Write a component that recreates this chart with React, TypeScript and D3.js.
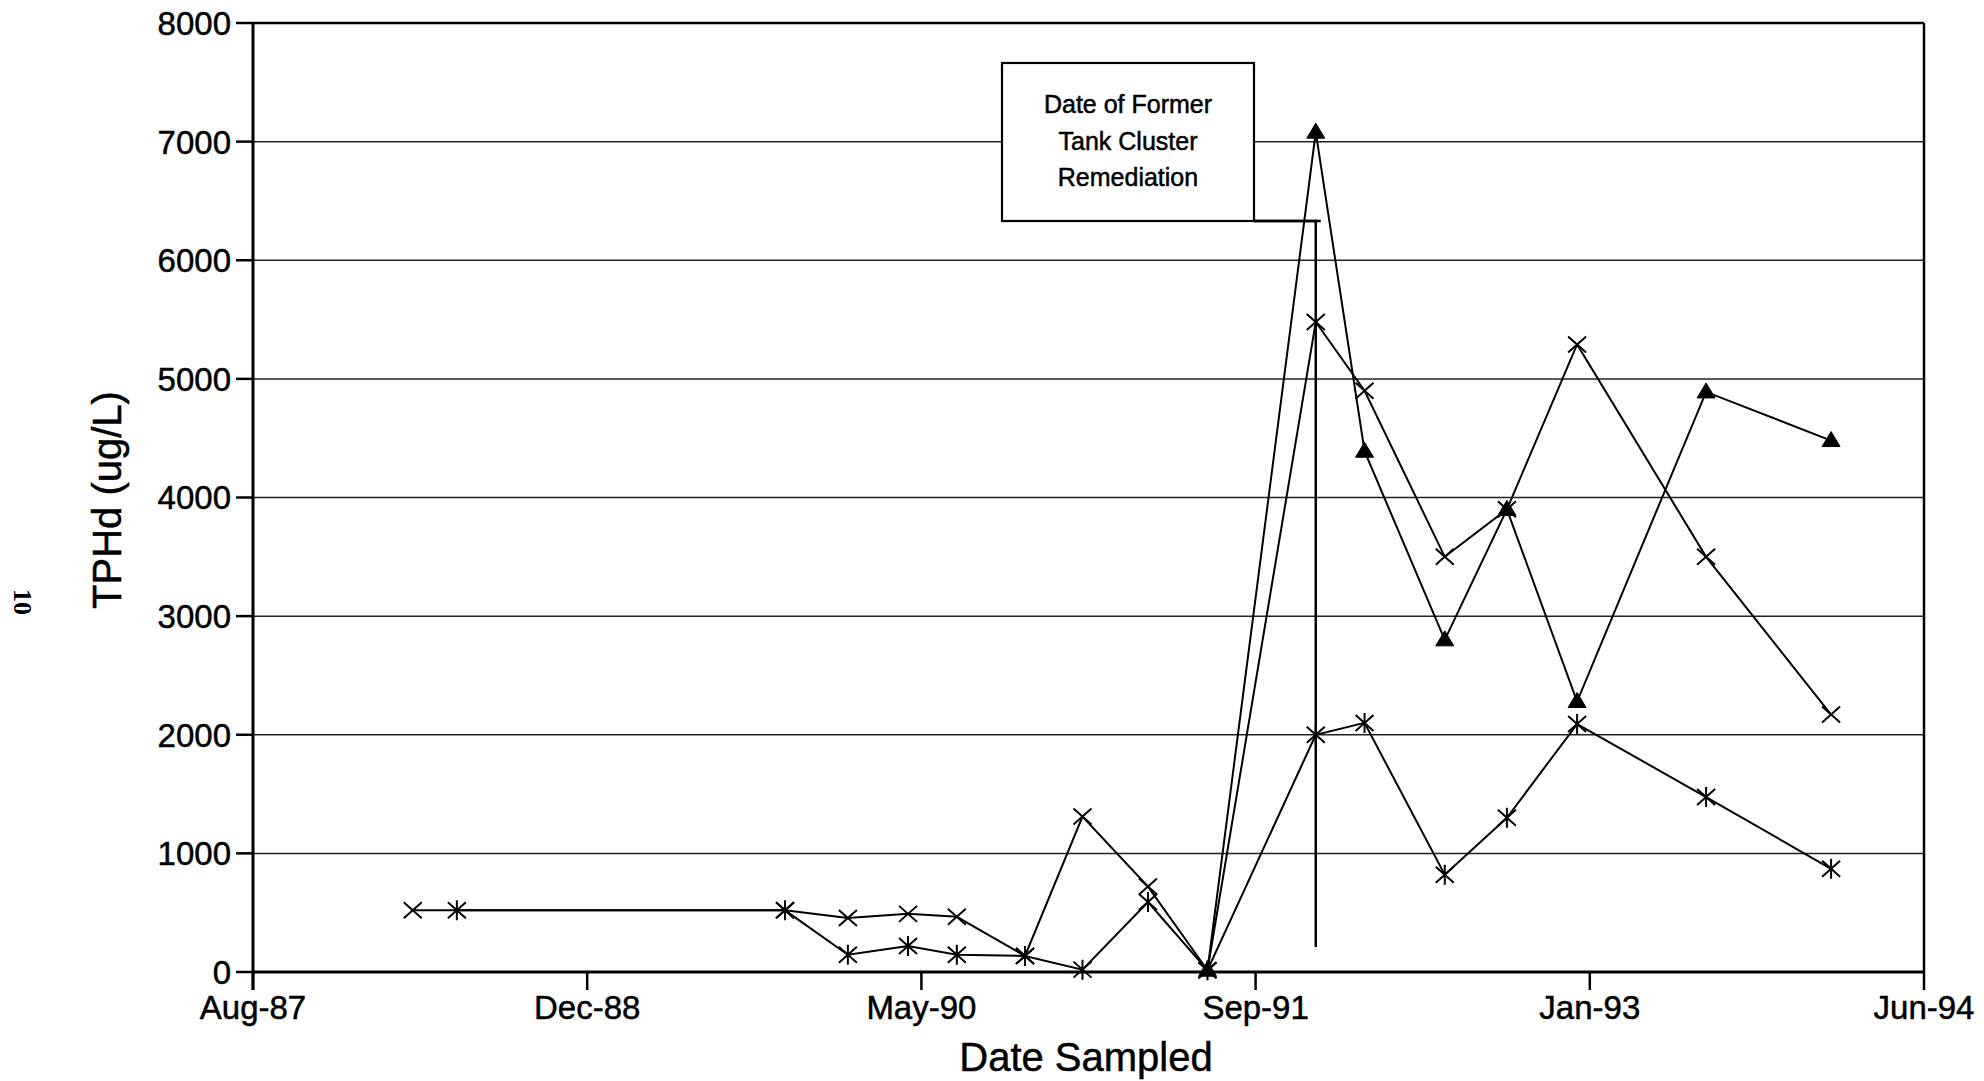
import React from "react";
import * as d3 from "d3";

// ---- data ----
const tickDates = ["1987-08-11", "1988-12-23", "1990-05-07", "1991-09-19", "1993-01-31", "1994-06-15"];
const yTicks = [0, 1000, 2000, 3000, 4000, 5000, 6000, 7000, 8000];

const crossDates = [
  "1988-04-06", "1989-10-15", "1990-01-17", "1990-04-17", "1990-06-29", "1990-10-09",
  "1991-01-03", "1991-04-11", "1991-07-09", "1991-12-18", "1992-02-29", "1992-06-28",
  "1992-09-29", "1993-01-12", "1993-07-24", "1994-01-27",
];
const crossValues = [520, 520, 455, 490, 465, 135, 1310, 720, 15, 5480, 4900, 3500, 3900, 5290, 3500, 2170];

const starDates = [
  "1988-06-11", "1989-10-15", "1990-01-17", "1990-04-17", "1990-06-29", "1990-10-09",
  "1991-01-03", "1991-04-11", "1991-07-09", "1991-12-18", "1992-02-29", "1992-06-28",
  "1992-09-29", "1993-01-12", "1993-07-24", "1994-01-27",
];
const starValues = [520, 520, 145, 220, 145, 135, 20, 590, 15, 2000, 2100, 820, 1300, 2090, 1475, 870];

const triDates = [
  "1991-07-09", "1991-12-18", "1992-02-29", "1992-06-28", "1992-09-29", "1993-01-12",
  "1993-07-24", "1994-01-27",
];
const triValues = [15, 7080, 4390, 2800, 3900, 2280, 4890, 4480];

const remediationDate = "1991-12-18";
const remediationFrom = 210;
const boxLines = ["Date of Former", "Tank Cluster", "Remediation"];

const xTitle = "Date Sampled";
const yTitle = "TPHd (ug/L)";
const pageNote = "10";

// ---- layout ----
const W = 1984;
const H = 1081;
const L = 253;
const R = 1924;
const T = 23;
const B = 972;
const FONT = "'Liberation Sans', Arial, Helvetica, sans-serif";

const parse = d3.utcParse("%Y-%m-%d");
const fmt = d3.utcFormat("%b-%y");

const x = d3
  .scaleUtc()
  .domain([parse(tickDates[0])!, parse(tickDates[tickDates.length - 1])!])
  .range([L, R]);
const y = d3.scaleLinear().domain([0, 8000]).range([B, T]);

type Pt = { d: Date; v: number };
const zip = (ds: string[], vs: number[]): Pt[] => ds.map((s, i) => ({ d: parse(s)!, v: vs[i] }));

const crossData = zip(crossDates, crossValues);
const starData = zip(starDates, starValues);
const triData = zip(triDates, triValues);

const line = d3
  .line<Pt>()
  .x((p) => x(p.d))
  .y((p) => y(p.v));

const CrossMark = ({ cx, cy }: { cx: number; cy: number }) => (
  <path d={`M${cx - 9},${cy - 8}L${cx + 9},${cy + 8}M${cx - 9},${cy + 8}L${cx + 9},${cy - 8}`} stroke="#000" strokeWidth={2} fill="none" />
);
const StarMark = ({ cx, cy }: { cx: number; cy: number }) => (
  <path
    d={`M${cx - 9},${cy - 8}L${cx + 9},${cy + 8}M${cx - 9},${cy + 8}L${cx + 9},${cy - 8}M${cx},${cy - 10}V${cy + 10}`}
    stroke="#000"
    strokeWidth={2}
    fill="none"
  />
);
const TriMark = ({ cx, cy }: { cx: number; cy: number }) => (
  <path d={`M${cx},${cy - 9}L${cx + 9},${cy + 6}L${cx - 9},${cy + 6}Z`} fill="#000" stroke="#000" strokeWidth={1} />
);

export default function App() {
  const xr = x(parse(remediationDate)!);
  const box = { x0: 1002, x1: 1254, y0: 63, y1: 221 };
  const boxCx = (box.x0 + box.x1) / 2;
  const ts = { stroke: "#000", strokeWidth: 0.5 };
  return (
    <div style={{ position: "absolute", left: 0, top: 0 }}>
      <svg width={W} height={H} style={{ display: "block", background: "#fff" }}>
        <rect x={0} y={0} width={W} height={H} fill="#fff" />
        {/* gridlines */}
        {yTicks.slice(1, -1).map((t) => (
          <line key={"g" + t} x1={L} x2={R} y1={y(t)} y2={y(t)} stroke="#222" strokeWidth={1.5} />
        ))}

        {/* series lines */}
        <path d={line(crossData)!} fill="none" stroke="#000" strokeWidth={2} />
        <path d={line(starData)!} fill="none" stroke="#000" strokeWidth={2} />
        <path d={line(triData)!} fill="none" stroke="#000" strokeWidth={2} />

        {/* markers */}
        {crossData.map((p, i) => (
          <CrossMark key={"c" + i} cx={x(p.d)} cy={y(p.v)} />
        ))}
        {starData.map((p, i) => (
          <StarMark key={"s" + i} cx={x(p.d)} cy={y(p.v)} />
        ))}
        {triData.map((p, i) => (
          <TriMark key={"t" + i} cx={x(p.d)} cy={y(p.v)} />
        ))}

        {/* remediation marker */}
        <path d={`M${xr},${y(remediationFrom)}V${box.y1}H${box.x1}`} fill="none" stroke="#000" strokeWidth={2.5} />
        <path d={`M${box.x1},${box.y1}H${xr + 5}`} fill="none" stroke="#000" strokeWidth={2.5} />
        <rect x={box.x0} y={box.y0} width={box.x1 - box.x0} height={box.y1 - box.y0} fill="#fff" stroke="#000" strokeWidth={2.2} />
        {boxLines.map((s, i) => (
          <text key={s} x={boxCx} y={113 + i * 36.5} textAnchor="middle" fontFamily={FONT} fontSize={25} fill="#000" {...ts}>
            {s}
          </text>
        ))}

        {/* frame */}
        <line x1={L} x2={R} y1={T} y2={T} stroke="#000" strokeWidth={2.5} />
        <line x1={R} x2={R} y1={T} y2={B} stroke="#000" strokeWidth={2.5} />
        <line x1={L} x2={R} y1={B} y2={B} stroke="#000" strokeWidth={3} />
        <line x1={L} x2={L} y1={T} y2={B + 18} stroke="#000" strokeWidth={3} />

        {/* y axis ticks & labels */}
        {yTicks.map((t) => (
          <g key={"y" + t}>
            <line x1={L - 17} x2={L} y1={y(t)} y2={y(t)} stroke="#000" strokeWidth={2.5} />
            <text x={L - 22} y={y(t)} dy="0.36em" textAnchor="end" fontFamily={FONT} fontSize={33} fill="#000" {...ts}>
              {t}
            </text>
          </g>
        ))}

        {/* x axis ticks & labels */}
        {tickDates.map((s) => {
          const d = parse(s)!;
          return (
            <g key={"x" + s}>
              <line x1={x(d)} x2={x(d)} y1={B} y2={B + 18} stroke="#000" strokeWidth={2.5} />
              <text x={x(d)} y={1019} textAnchor="middle" fontFamily={FONT} fontSize={33} fill="#000" {...ts}>
                {fmt(d)}
              </text>
            </g>
          );
        })}

        {/* axis titles */}
        <text x={1086} y={1071} textAnchor="middle" fontFamily={FONT} fontSize={40} fill="#000" {...ts}>
          {xTitle}
        </text>
        <text
          transform={`translate(121,500) rotate(-90)`}
          textAnchor="middle"
          fontFamily={FONT}
          fontSize={40}
          fill="#000"
          {...ts}
        >
          {yTitle}
        </text>
        <text
          transform={`translate(14,602) rotate(90)`}
          textAnchor="middle"
          fontFamily="'Liberation Serif', 'DejaVu Serif', serif"
          fontWeight="bold"
          fontSize={26}
          fill="#000"
        >
          {pageNote}
        </text>
      </svg>
    </div>
  );
}
